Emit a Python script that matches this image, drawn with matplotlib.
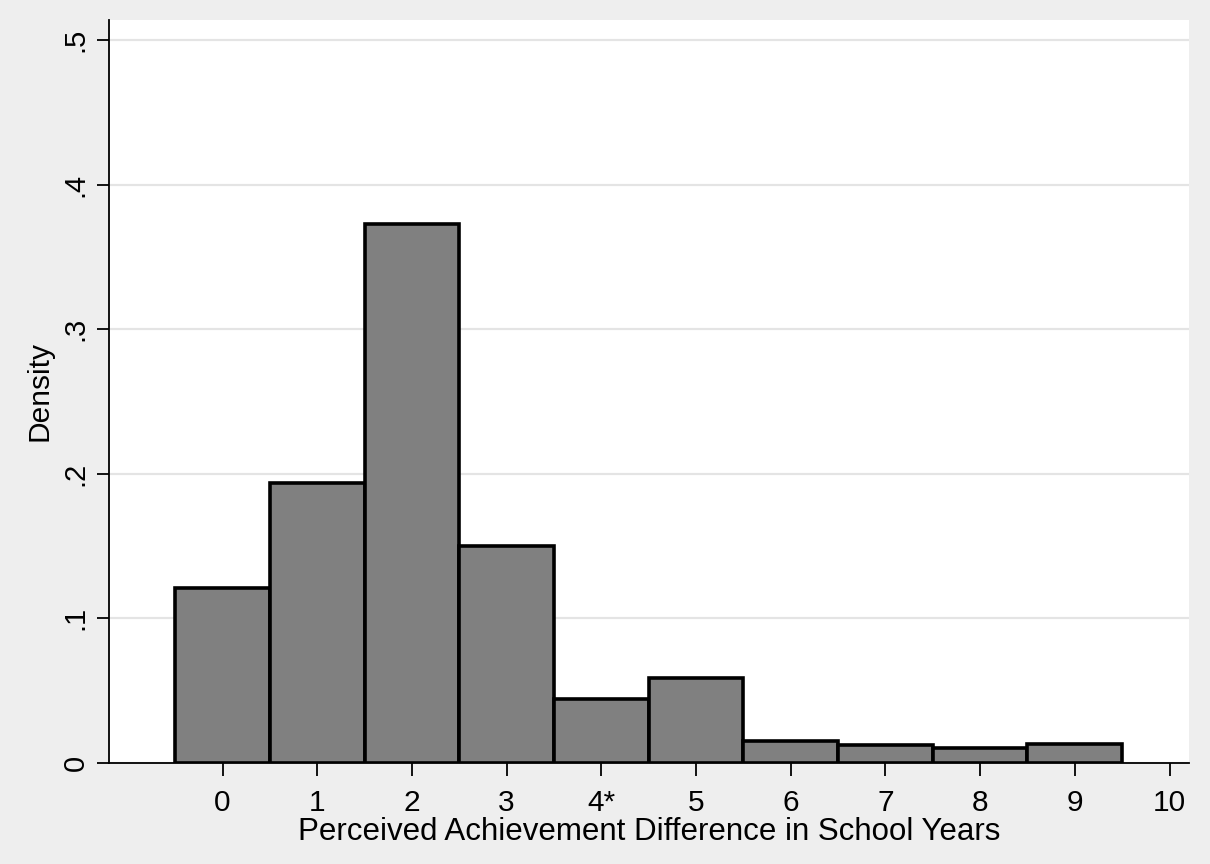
import numpy as np
import matplotlib.pyplot as plt

plt.rcParams['font.family'] = ['Liberation Sans', 'DejaVu Sans']

# Histogram data (density per one-year bin)
years = [0, 1, 2, 3, 4, 5, 6, 7, 8, 9]
density = [0.121, 0.1935, 0.373, 0.150, 0.044, 0.0585, 0.0149, 0.0121, 0.0103, 0.0131]
xtick_pos = [0, 1, 2, 3, 4, 5, 6, 7, 8, 9, 10]
xtick_labels = ['0', '1', '2', '3', '4*', '5', '6', '7', '8', '9', '10']
ytick_pos = [0, 0.1, 0.2, 0.3, 0.4, 0.5]
ytick_labels = ['0', '.1', '.2', '.3', '.4', '.5']

fig = plt.figure(figsize=(12.1, 8.64), dpi=100, facecolor='#EEEEEE')
ax = fig.add_axes([0.090, 0.117, 0.893, 0.860])
ax.set_facecolor('white')

ax.bar(years, density, width=1.0, color='#808080', edgecolor='black',
       linewidth=2.6, zorder=3)

ax.set_xlim(-1.2, 10.21)
ax.set_ylim(0, 0.514)

ax.set_yticks(ytick_pos)
ax.set_yticklabels(ytick_labels, rotation=90, va='center', fontsize=21)
ax.set_xticks(xtick_pos)
ax.set_xticklabels(xtick_labels, fontsize=21.5)

ax.yaxis.grid(True, color='#E4E4E4', linewidth=1.6, zorder=0)
ax.set_axisbelow(True)

for s in ['top', 'right']:
    ax.spines[s].set_visible(False)
ax.spines['left'].set_linewidth(1.3)
ax.spines['bottom'].set_linewidth(1.3)
ax.tick_params(axis='x', length=9, width=1.3, direction='out', pad=10)
ax.tick_params(axis='y', length=9, width=1.3, direction='out', pad=5)

ax.set_xlabel('Perceived Achievement Difference in School Years', fontsize=22.5, labelpad=0)
ax.set_ylabel('Density', fontsize=21.5, labelpad=6)

fig.savefig('out.png', dpi=100, facecolor=fig.get_facecolor())
